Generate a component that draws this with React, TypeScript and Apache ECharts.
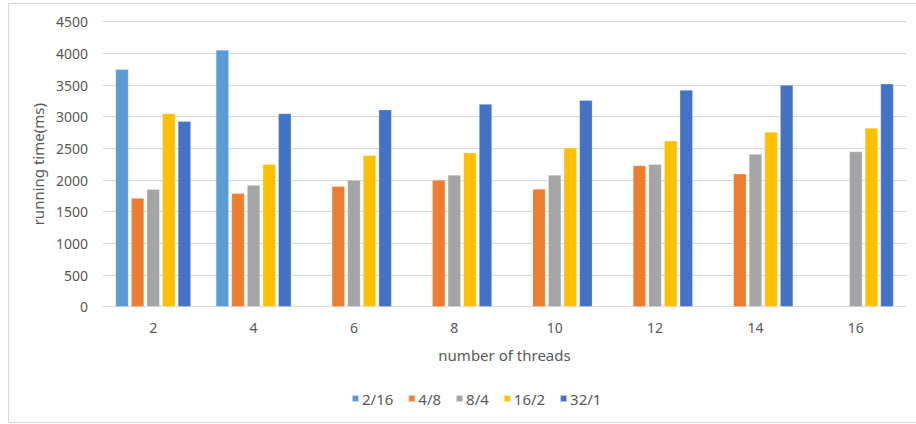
import React, { useEffect, useRef } from "react";
import * as echarts from "echarts";

const categories = ["2", "4", "6", "8", "10", "12", "14", "16"];
const seriesNames = ["2/16", "4/8", "8/4", "16/2", "32/1"];
const s2_16 = [3750, 4055, null, null, null, null, null, null];
const s4_8 = [1715, 1790, 1900, 2000, 1860, 2230, 2100, null];
const s8_4 = [1855, 1920, 2000, 2080, 2080, 2250, 2410, 2450];
const s16_2 = [3050, 2250, 2390, 2430, 2510, 2620, 2760, 2820];
const s32_1 = [2930, 3050, 3110, 3200, 3260, 3420, 3500, 3520];
const colors = ["#5B9BD5", "#ED7D31", "#A5A5A5", "#FFC000", "#4472C4"];
const yTicksMax = 4500;
const yInterval = 500;

const FONT = "'Noto Sans', 'Open Sans', sans-serif";
const TEXT = "#595959";

export default function App() {
  const ref = useRef<HTMLDivElement>(null);
  useEffect(() => {
    if (!ref.current) return;
    const chart = echarts.init(ref.current, null, { renderer: "svg" });
    const data = [s2_16, s4_8, s8_4, s16_2, s32_1];
    chart.setOption({
      animation: false,
      backgroundColor: "#fff",
      textStyle: { fontFamily: FONT, color: TEXT },
      graphic: [
        {
          type: "rect",
          shape: { x: 8.5, y: 3.5, width: 920, height: 419 },
          style: { fill: "none", stroke: "#d9d9d9", lineWidth: 1 },
          silent: true,
        },
      ],
      grid: { left: 103, right: 10, top: 21.7, bottom: 117.3, containLabel: false },
      legend: {
        top: 386,
        left: 346,
        itemWidth: 7,
        itemHeight: 7,
        itemGap: 14,
        icon: "rect",
        textStyle: { fontFamily: FONT, fontSize: 15, color: TEXT, padding: [0, 0, 0, -2] },
        data: seriesNames,
      },
      xAxis: {
        type: "category",
        data: categories,
        name: "number of threads",
        nameLocation: "middle",
        nameGap: 41,
        nameTextStyle: { fontFamily: FONT, fontSize: 15, color: TEXT },
        axisLine: { lineStyle: { color: "#d9d9d9", width: 1 } },
        axisTick: { show: false },
        axisLabel: { fontFamily: FONT, fontSize: 14, color: TEXT, margin: 14 },
      },
      yAxis: {
        type: "value",
        min: 0,
        max: yTicksMax,
        interval: yInterval,
        name: "running time(ms)",
        nameLocation: "middle",
        nameGap: 55,
        nameTextStyle: { fontFamily: FONT, fontSize: 15, color: TEXT },
        axisLine: { show: false },
        axisTick: { show: false },
        axisLabel: {
          fontFamily: FONT,
          fontSize: 14,
          color: TEXT,
          margin: 15,
          formatter: (v: number) => String(v),
        },
        splitLine: { lineStyle: { color: "#d9d9d9", width: 1 } },
      },
      series: seriesNames.map((name, i) => ({
        name,
        type: "bar",
        data: data[i],
        barWidth: 13,
        barGap: "20%",
        itemStyle: { color: colors[i], borderColor: "rgba(255,255,255,0.6)", borderWidth: 0.5 },
      })),
    });
    return () => chart.dispose();
  }, []);
  return (
    <div
      ref={ref}
      style={{ position: "absolute", left: 0, top: 0, width: 916, height: 424 }}
    />
  );
}
